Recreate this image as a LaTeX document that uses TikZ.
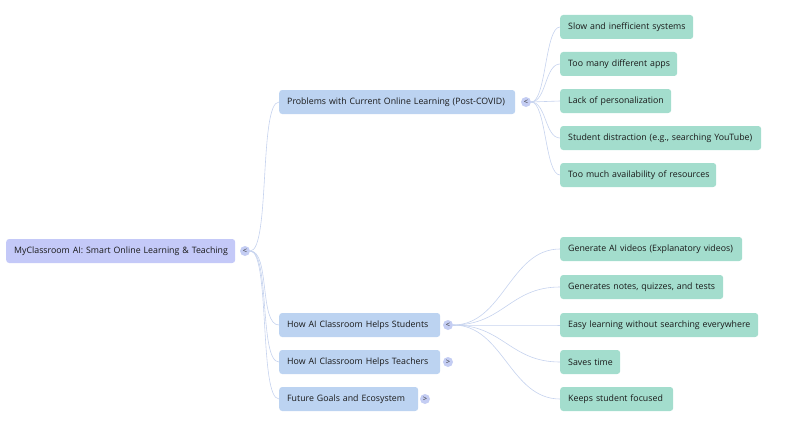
\documentclass[tikz,border=0pt]{standalone}
\usepackage{fontspec}
\setmainfont{Open Sans}
\begin{document}
\begin{tikzpicture}[x=1pt,y=-1pt,
  box/.style={anchor=west,rounded corners=3pt,minimum height=24pt,inner xsep=8pt,font=\fontsize{8.8}{10}\selectfont,text=black!90,align=left,execute at begin node=\mbox\bgroup,execute at end node=\egroup},
  root/.style={box,fill=rootc},
  lvl/.style={box,fill=lvlc},
  leaf/.style={box,fill=leafc},
  tog/.style={circle,fill=togc,inner sep=0pt,minimum size=10pt,font=\fontsize{7.5}{7.5}\selectfont,text=black!80},
  con/.style={draw=linec,line width=0.6pt},
  ]
\definecolor{rootc}{HTML}{C4C9F8}
\definecolor{lvlc}{HTML}{BCD3F1}
\definecolor{leafc}{HTML}{A3DDCD}
\definecolor{togc}{HTML}{C4CDF3}
\definecolor{linec}{HTML}{C6D3EE}
\useasboundingbox (0,0) rectangle (806,428);
\node[root,text width=213pt] (r) at (6,251) {MyClassroom AI: Smart Online Learning \& Teaching};
\node[tog] (rt) at (245,251) {\symbol{60}};
\node[lvl,text width=220pt] (p) at (279,102) {Problems with Current Online Learning (Post-COVID)};
\node[tog] (pt) at (526,102) {\symbol{60}};
\node[lvl,text width=145pt] (s) at (279,325) {How AI Classroom Helps Students};
\node[tog] (st) at (448,325) {\symbol{60}};
\node[lvl,text width=145pt] (t) at (279,362) {How AI Classroom Helps Teachers};
\node[tog] (tt) at (448,362) {\symbol{62}};
\node[lvl,text width=123pt] (f) at (279,399) {Future Goals and Ecosystem};
\node[tog] (ft) at (425,399) {\symbol{62}};
\node[leaf,text width=117pt] (p1) at (560,27) {Slow and inefficient systems};
\node[leaf,text width=101pt] (p2) at (560,64) {Too many different apps};
\node[leaf,text width=95pt] (p3) at (560,101) {Lack of personalization};
\node[leaf,text width=185pt] (p4) at (560,138) {Student distraction (e.g., searching YouTube)};
\node[leaf,text width=140pt] (p5) at (560,175) {Too much availability of resources};
\node[leaf,text width=166pt] (s1) at (560,249) {Generate AI videos (Explanatory videos)};
\node[leaf,text width=147pt] (s2) at (560,287) {Generates notes, quizzes, and tests};
\node[leaf,text width=182pt] (s3) at (560,325) {Easy learning without searching everywhere};
\node[leaf,text width=44pt] (s4) at (560,362) {Saves time};
\node[leaf,text width=97pt] (s5) at (560,399) {Keeps student focused};
\foreach \c in {p,s,t,f} \draw[con] (rt.east) .. controls +(20,0) and +(-20,0) .. (\c.west);
\foreach \c in {p1,p2,p3,p4,p5} \draw[con] (pt.east) .. controls +(15,0) and +(-15,0) .. (\c.west);
\foreach \c in {s1,s2,s3,s4,s5} \draw[con] (st.east) .. controls +(50,0) and +(-50,0) .. (\c.west);
\end{tikzpicture}
\end{document}
